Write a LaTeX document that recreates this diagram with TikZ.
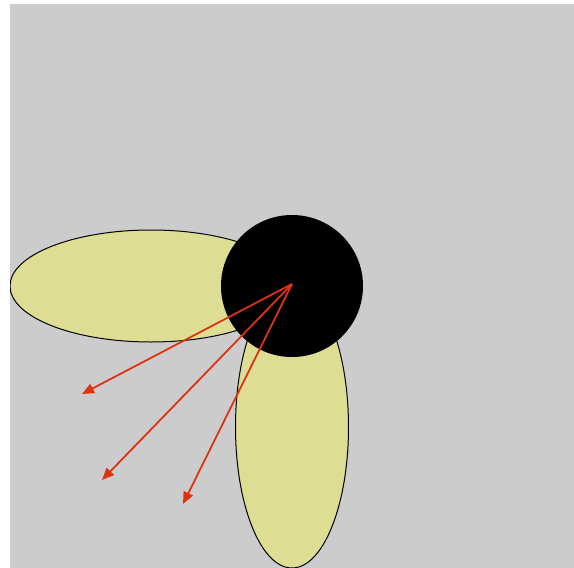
\documentclass[tikz,border=0pt]{standalone}
\usetikzlibrary{arrows.meta}
\definecolor{bggray}{HTML}{CCCCCC}
\definecolor{petal}{HTML}{DDDD93}
\definecolor{ray}{HTML}{DD3311}
\begin{document}
\begin{tikzpicture}[x=1pt,y=-1pt,line join=round,
  petalshape/.style={draw=black,line width=1pt,fill=petal},
  hub/.style={fill=black},
  rayline/.style={draw=ray,line width=1.8pt,-{Triangle[length=12pt,width=10pt]}}]

\useasboundingbox (0,0) rectangle (574,568);
\fill[white] (0,0) rectangle (574,568);
\fill[bggray] (10,4) rectangle (574,568);

% two petals under the hub
\begin{scope}
  \clip (10,4) rectangle (574,568);
  \draw[petalshape] (151,286) ellipse (141 and 56);
  \draw[petalshape] (292,427) ellipse (56.5 and 141);
\end{scope}
\fill[hub] (292,286) circle (71);

% rays from the hub centre
\coordinate (hubc) at (292,284);
\coordinate (rayA) at (82,394);
\coordinate (rayB) at (102,480);
\coordinate (rayC) at (183,504);
\foreach \t in {rayA,rayB,rayC}
  \draw[rayline] (hubc) -- (\t);
\end{tikzpicture}
\end{document}
